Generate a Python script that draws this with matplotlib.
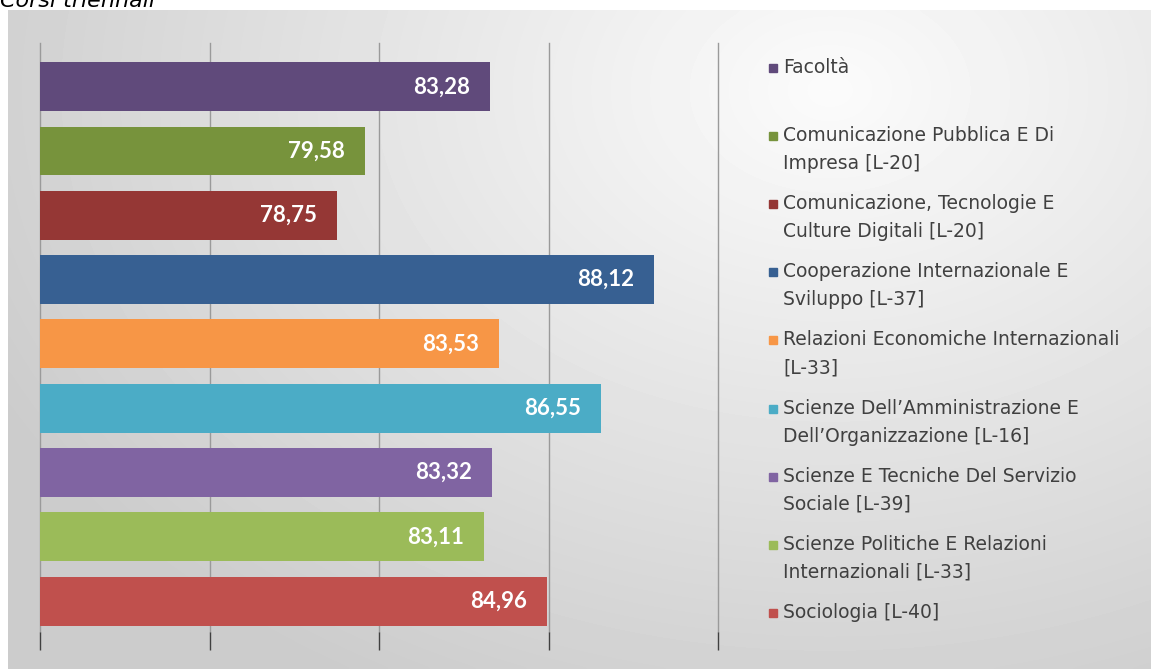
import matplotlib.pyplot as plt
import numpy as np

# ------------------------------------------------------------------
# data
# ------------------------------------------------------------------
corsi = [
  'Facoltà',
  'Comunicazione Pubblica E Di\nImpresa [L-20]',
  'Comunicazione, Tecnologie E\nCulture Digitali [L-20]',
  'Cooperazione Internazionale E\nSviluppo [L-37]',
  'Relazioni Economiche Internazionali\n[L-33]',
  'Scienze Dell\u2019Amministrazione E\nDell\u2019Organizzazione [L-16]',
  'Scienze E Tecniche Del Servizio\nSociale [L-39]',
  'Scienze Politiche E Relazioni\nInternazionali [L-33]',
  'Sociologia [L-40]',
]
valori = [83.28, 79.58, 78.75, 88.12, 83.53, 86.55, 83.32, 83.11, 84.96]
colori = ['#604A7B', '#77933C', '#953735', '#376092', '#F79646',
          '#4BACC6', '#8064A2', '#9BBB59', '#C0504D']
xticks = [70, 75, 80, 85, 90]

W, H = 1151, 669
fig = plt.figure( figsize=(W/100, H/100), dpi=100 )
fig.patch.set_facecolor( 'white' )

# background panel with soft gradient
bg = fig.add_axes( [8/W, 0, 1 - 8/W, 1 - 10/H] )
gx, gy = np.meshgrid( np.linspace(0, 1, 300), np.linspace(0, 1, 200) )
d = np.sqrt( ((gx - 0.72)/0.75)**2 + ((gy - 0.12)/0.95)**2 )
shade = np.clip( 0.985 - 0.17*d, 0.80, 1.0 )
bg.imshow( shade, cmap='gray', vmin=0, vmax=1, aspect='auto',
           extent=[0, 1, 1, 0], interpolation='bicubic' )
bg.set_axis_off()

fig.text( 0.0, 1 - 7/H, 'Corsi triennali', fontsize=16, style='italic',
          color='black', va='baseline', ha='left' )

# ------------------------------------------------------------------
# bars
# ------------------------------------------------------------------
ax = fig.add_axes( [40/W, 1 - 632/H, 678/W, 589/H] )
ax.patch.set_alpha( 0 )
ind = np.arange( len(valori) )
base = xticks[0]
vals = np.array( valori )
bars = ax.barh( ind, vals - base, left=base, height=0.76, color=colori,
                edgecolor='none', zorder=3 )

for b, v in zip( bars, valori ):
  ax.annotate( f'{v:.2f}'.replace('.', ','), ( b.get_x() + b.get_width(), b.get_y() + b.get_height()/2 ),
               xytext=(-20, 0), textcoords='offset pixels', ha='right', va='center',
               color='white', fontsize=16, fontweight='bold', family='Lato', zorder=4 )

ax.set_xlim( xticks[0], xticks[-1] )
ax.set_ylim( 8.48, -0.68 )
ax.set_xticks( xticks )
ax.set_xticklabels( [] )
ax.set_yticks( [] )
ax.grid( axis='x', color='#9a9a9a', linewidth=1, zorder=0 )
for gl in ax.get_xgridlines():
  gl.set_clip_on( False )
ax.tick_params( axis='x', direction='out', length=13, width=1, color='#404040' )
for s in ax.spines.values():
  s.set_visible( False )

# ------------------------------------------------------------------
# legend
# ------------------------------------------------------------------
y0, step = 68, 68.1
for k, (lab, c) in enumerate( zip( corsi, colori ) ):
  yc = y0 + k*step
  fig.patches.append( plt.Rectangle( (769/W, 1 - (yc + 4)/H), 8/W, 8/H,
                                     transform=fig.transFigure, color=c, zorder=5 ) )
  fig.text( 783/W, 1 - (yc - 10)/H, lab, fontsize=13.5, color='#404040',
            va='top', ha='left', linespacing=1.6 )

fig.savefig( 'out.png', dpi=100 )
